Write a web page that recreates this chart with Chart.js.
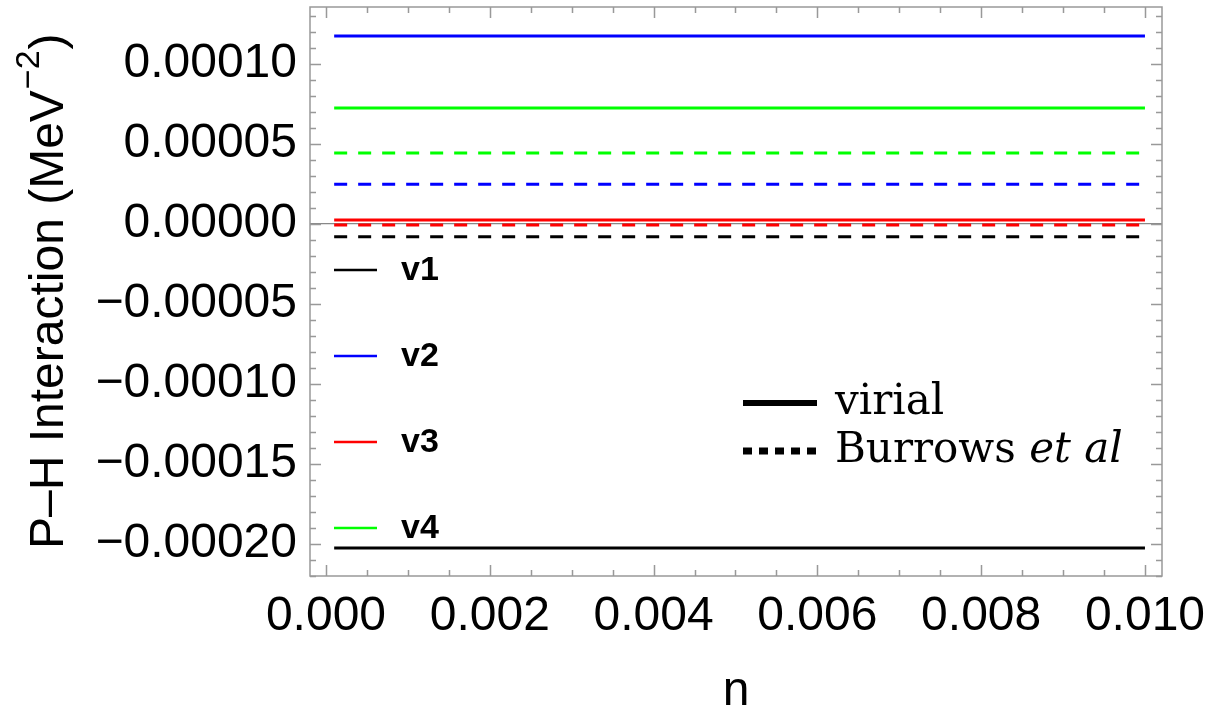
<!DOCTYPE html>
<html>
<head>
<meta charset="utf-8">
<script src="https://cdn.jsdelivr.net/npm/chart.js@4.4.1/dist/chart.umd.min.js"></script>
<style>
  html, body { margin: 0; padding: 0; background: #fff; }
</style>
</head>
<body>
<canvas id="ChartPHInteraction" width="1209" height="710"></canvas>
<script>
// values
const nValues = [0.0001, 0.01];
const seriesNames = ['v1', 'v2', 'v3', 'v4'];
const seriesColors = ['#000000', '#0000ff', '#ff0000', '#00ff00'];
const virialValues = [-0.0002025, 0.0001175, 0.0000025, 0.0000725];
const burrowsValues = [-0.0000080, 0.0000248, -0.0000006, 0.0000443];
const xTickValues = [0, 0.002, 0.004, 0.006, 0.008, 0.010];
const yTickValues = [-0.0002, -0.00015, -0.0001, -0.00005, 0, 0.00005, 0.0001];

const SANS = "'Liberation Sans', Arial, sans-serif";
const SERIF = "'DejaVu Serif', serif";

const datasets = [];
seriesNames.forEach((name, i) => {
  datasets.push({
    label: name + ' virial',
    data: nValues.map(x => ({ x: x, y: virialValues[i] })),
    borderColor: seriesColors[i],
    borderWidth: 3,
    pointRadius: 0,
    tension: 0,
  });
});
seriesNames.forEach((name, i) => {
  datasets.push({
    label: name + ' Burrows',
    data: nValues.map(x => ({ x: x, y: burrowsValues[i] })),
    borderColor: seriesColors[i],
    borderWidth: 3,
    borderDash: [13, 11],
    pointRadius: 0,
    tension: 0,
  });
});

// Mathematica style frame with inward ticks on all four sides
const frameTicks = {
  id: 'frameTicks',
  afterDatasetsDraw(chart) {
    const { ctx, chartArea: a, scales: { x, y } } = chart;
    ctx.save();
    ctx.strokeStyle = '#999';
    ctx.lineWidth = 1.5;
    ctx.strokeRect(a.left, a.top, a.right - a.left, a.bottom - a.top);
    ctx.beginPath();
    for (let k = Math.ceil(x.min / 0.0005); k * 0.0005 <= x.max; k++) {
      const px = Math.round(x.getPixelForValue(k * 0.0005)) + 0.5;
      const len = k % 4 === 0 ? 11 : 6;
      ctx.moveTo(px, a.bottom); ctx.lineTo(px, a.bottom - len);
      ctx.moveTo(px, a.top); ctx.lineTo(px, a.top + len);
    }
    for (let k = Math.ceil(y.min / 0.00001); k * 0.00001 <= y.max; k++) {
      const py = Math.round(y.getPixelForValue(k * 0.00001)) + 0.5;
      const len = k % 5 === 0 ? 11 : 6;
      ctx.moveTo(a.left, py); ctx.lineTo(a.left + len, py);
      ctx.moveTo(a.right, py); ctx.lineTo(a.right - len, py);
    }
    ctx.stroke();
    ctx.restore();
  },
  afterDraw(chart) {
    const { ctx, chartArea: a } = chart;
    ctx.save();
    ctx.fillStyle = '#000';

    // y title with superscript
    ctx.translate(63, 549);
    ctx.rotate(-Math.PI / 2);
    ctx.textBaseline = 'alphabetic';
    ctx.textAlign = 'left';
    ctx.font = '48px ' + SANS;
    let t = 'P\u2013H Interaction (MeV';
    ctx.fillText(t, 0, 0);
    let w = ctx.measureText(t).width;
    ctx.font = '34px ' + SANS;
    ctx.fillText('\u22122', w + 1, -24);
    w += ctx.measureText('\u22122').width + 2;
    ctx.font = '48px ' + SANS;
    ctx.fillText(')', w, 0);
    ctx.setTransform(1, 0, 0, 1, 0, 0);

    // x title
    ctx.textAlign = 'center';
    ctx.font = '48px ' + SANS;
    ctx.fillText('n', (a.left + a.right) / 2, 705);

    // colour legend
    ctx.textAlign = 'left';
    ctx.textBaseline = 'middle';
    ctx.font = 'bold 34px ' + SANS;
    seriesNames.forEach((name, i) => {
      const ly = 270 + i * 86;
      ctx.strokeStyle = seriesColors[i];
      ctx.lineWidth = 2.5;
      ctx.beginPath();
      ctx.moveTo(334, ly); ctx.lineTo(377, ly);
      ctx.stroke();
      ctx.fillText(name, 401, ly + 1);
    });

    // line style legend
    ctx.strokeStyle = '#000';
    ctx.lineWidth = 6;
    ctx.beginPath();
    ctx.moveTo(743, 403); ctx.lineTo(817, 403);
    ctx.stroke();
    ctx.lineWidth = 7;
    ctx.setLineDash([9, 7]);
    ctx.beginPath();
    ctx.moveTo(743, 451); ctx.lineTo(818, 451);
    ctx.stroke();
    ctx.setLineDash([]);
    ctx.textBaseline = 'alphabetic';
    ctx.font = '42px ' + SERIF;
    ctx.fillText('virial', 835, 414);
    ctx.fillText('Burrows ', 835, 462);
    const bw = ctx.measureText('Burrows ').width;
    ctx.font = 'italic 42px ' + SERIF;
    ctx.fillText('et al', 835 + bw, 462);
    ctx.restore();
  },
};

const ctx = document.getElementById('ChartPHInteraction').getContext('2d');
new Chart(ctx, {
  type: 'line',
  data: { datasets: datasets },
  options: {
    responsive: false,
    animation: false,
    devicePixelRatio: 1,
    layout: { padding: { left: 0, right: 47, top: 7, bottom: 0 } },
    plugins: {
      legend: { display: false },
      tooltip: { enabled: false },
    },
    scales: {
      x: {
        type: 'linear',
        min: -0.000195,
        max: 0.010208,
        afterBuildTicks: (s) => { s.ticks = xTickValues.map(v => ({ value: v })); },
        afterFit: (s) => { s.height = 134; s.paddingLeft = 0; s.paddingRight = 0; },
        ticks: {
          callback: (v) => v.toFixed(3),
          font: { family: SANS, size: 48 },
          color: '#000',
          padding: 12,
          maxRotation: 0,
          autoSkip: false,
        },
        grid: { display: false, drawTicks: false },
        border: { display: false },
      },
      y: {
        type: 'linear',
        min: -0.00022,
        max: 0.0001356,
        afterBuildTicks: (s) => { s.ticks = yTickValues.map(v => ({ value: v })); },
        afterFit: (s) => { s.width = 310; s.paddingTop = 0; s.paddingBottom = 0; },
        ticks: {
          callback: (v) => (v < 0 ? '\u2212' : '') + Math.abs(v).toFixed(5),
          font: { family: SANS, size: 48 },
          color: '#000',
          padding: 13,
          autoSkip: false,
        },
        grid: {
          drawTicks: false,
          color: (c) => (c.tick && c.tick.value === 0 ? '#888' : 'rgba(0,0,0,0)'),
          lineWidth: 1.2,
        },
        border: { display: false },
      },
    },
  },
  plugins: [frameTicks],
});
</script>
</body>
</html>
